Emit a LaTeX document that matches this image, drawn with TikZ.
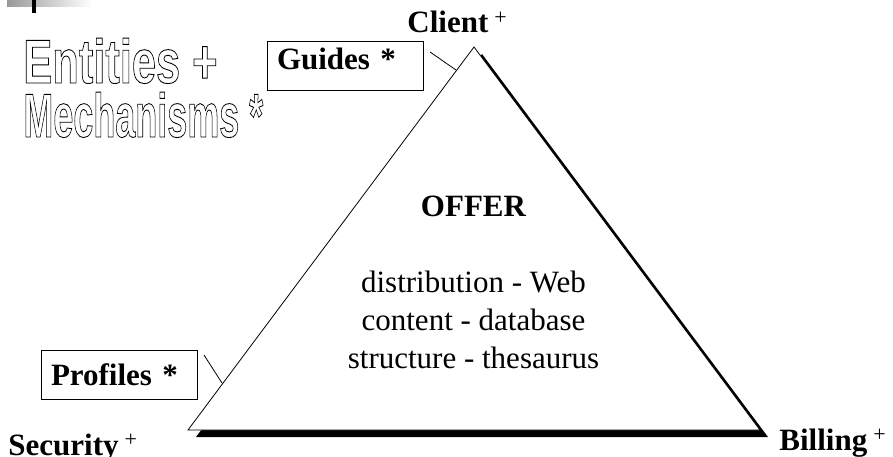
\documentclass[tikz,border=0pt]{standalone}
\usepackage{fontspec}
\setmainfont{Liberation Serif}
\newfontfamily\hollowfont{Liberation Sans}

\newcommand{\plusmark}{\hspace{6pt}\raisebox{8.5pt}{\fontsize{22}{22}\selectfont\mdseries +}}
\newcommand{\hollowtext}[1]{\special{pdf:literal direct 1 Tr 0.9 w}#1\special{pdf:literal direct 0 Tr}}

\begin{document}
\begin{tikzpicture}[x=1pt, y=-1pt, line width=0.8pt,
    corner/.style={inner sep=0pt, font=\fontsize{31}{37}\selectfont\bfseries},
    box/.style={draw=black, text width=136pt, inner xsep=10pt, minimum height=49pt, align=left, font=\fontsize{31}{37}\selectfont\bfseries},
    body/.style={inner sep=0pt, align=center, font=\fontsize{31}{38}\selectfont},
    hollow/.style={inner sep=0pt, text depth=0pt, font=\fontsize{62}{62}\selectfont\hollowfont\bfseries}]
    \useasboundingbox (0,0) rectangle (893,457);

    % slide mark
    \shade[left color=gray!80, right color=white] (7,0) rectangle (92,7);
    \fill[black] (32,0) rectangle (36,13);

    % title
    \node[hollow, anchor=base west] (entities) at (23,83) {\scalebox{0.70}[1]{\hollowtext{Entities +}}};
    \node[hollow, anchor=base west] (mechanisms) at (23,137) {\scalebox{0.58}[1]{\hollowtext{Mechanisms *}}};

    % triangle with shadow
    \coordinate (apex) at (474,47);
    \coordinate (left) at (188,430);
    \coordinate (right) at (760,430);
    \fill[black] ([shift={(8,7)}]apex) -- ([shift={(8,7)}]left) -- ([shift={(8,7)}]right) -- cycle;
    \draw[fill=white] (apex) -- (left) -- (right) -- cycle;

    \node[corner, anchor=base] (offer) at (473.5,216) {OFFER};
    \node[body, anchor=north] (layers) at (473.5,270.5) {distribution - Web\\content - database\\structure - thesaurus};

    % corners
    \node[corner, anchor=base west] (client) at (407,33) {Client\plusmark};
    \node[corner, anchor=base west] (security) at (8,455) {Security\plusmark};
    \node[corner, anchor=base west] (billing) at (779,450) {Billing\plusmark};

    % mechanisms
    \node[box, text depth=13pt] (guides) at (345,65.5) {Guides *};
    \node[box] (profiles) at (119,374.5) {Profiles *};

    \coordinate (gtip) at (430,52);
    \coordinate (gfoot) at (456,70);
    \coordinate (ptip) at (204,355);
    \coordinate (pfoot) at (222,383);
    \draw (gtip) -- (gfoot);
    \draw (ptip) -- (pfoot);
\end{tikzpicture}
\end{document}
